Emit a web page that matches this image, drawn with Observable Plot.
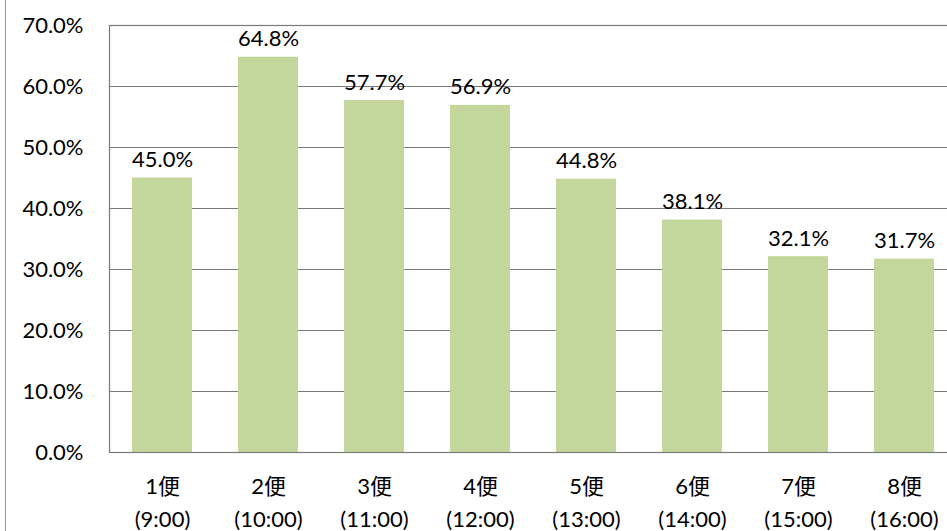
<!DOCTYPE html>
<html>
<head>
<meta charset="utf-8">
<script src="https://cdn.jsdelivr.net/npm/d3@7"></script>
<script src="https://cdn.jsdelivr.net/npm/@observablehq/plot@0.6"></script>
<style>
  html, body { margin: 0; padding: 0; background: #fff; overflow: hidden; }
  #wrap { position: relative; width: 947px; height: 531px; }
  #scanline { position: absolute; left: 5px; top: 0; width: 1px; height: 531px; background: #9a9a9a; }
</style>
</head>
<body>
<div id="wrap"><div id="scanline"></div></div>
<script>
const categories = ["1便", "2便", "3便", "4便", "5便", "6便", "7便", "8便"];
const times = ["(9:00)", "(10:00)", "(11:00)", "(12:00)", "(13:00)", "(14:00)", "(15:00)", "(16:00)"];
const values = [45.0, 64.8, 57.7, 56.9, 44.8, 38.1, 32.1, 31.7];
const yTicks = [0, 10, 20, 30, 40, 50, 60, 70];

const data = categories.map((c, i) => ({cat: c, time: times[i], value: values[i]}));
const fmt = d => d.toFixed(1) + "%";
const font = "Lato, 'Noto Sans CJK JP', sans-serif";

const chart = Plot.plot({
  width: 947,
  height: 531,
  marginLeft: 109,
  marginRight: -10,
  marginTop: 25,
  marginBottom: 79,
  style: {fontFamily: font, background: "transparent", color: "#000"},
  x: {domain: categories, paddingInner: 0.43, paddingOuter: 0.215, label: null},
  y: {domain: [0, 70], label: null},
  marks: [
    Plot.ruleY(yTicks, {stroke: "#7a7a7a", strokeWidth: 1.2}),
    Plot.barY(data, {x: "cat", y: "value", fill: "#c3d69b"}),
    Plot.frame({stroke: "#7a7a7a", strokeWidth: 1.2}),
    Plot.axisY({ticks: yTicks, tickFormat: fmt, tickSize: 0, tickPadding: 26, fontSize: 22, fill: "#000", label: null}),
    Plot.axisX({tickSize: 0, tickPadding: 18, fontSize: 22, lineHeight: 1.5, fill: "#000", label: null,
      tickFormat: d => d + "\n" + times[categories.indexOf(d)]}),
    Plot.text(data, {x: "cat", y: "value", text: d => fmt(d.value), dy: -18, fontSize: 22, fill: "#000"})
  ]
});
document.getElementById("wrap").appendChild(chart);
</script>
</body>
</html>
